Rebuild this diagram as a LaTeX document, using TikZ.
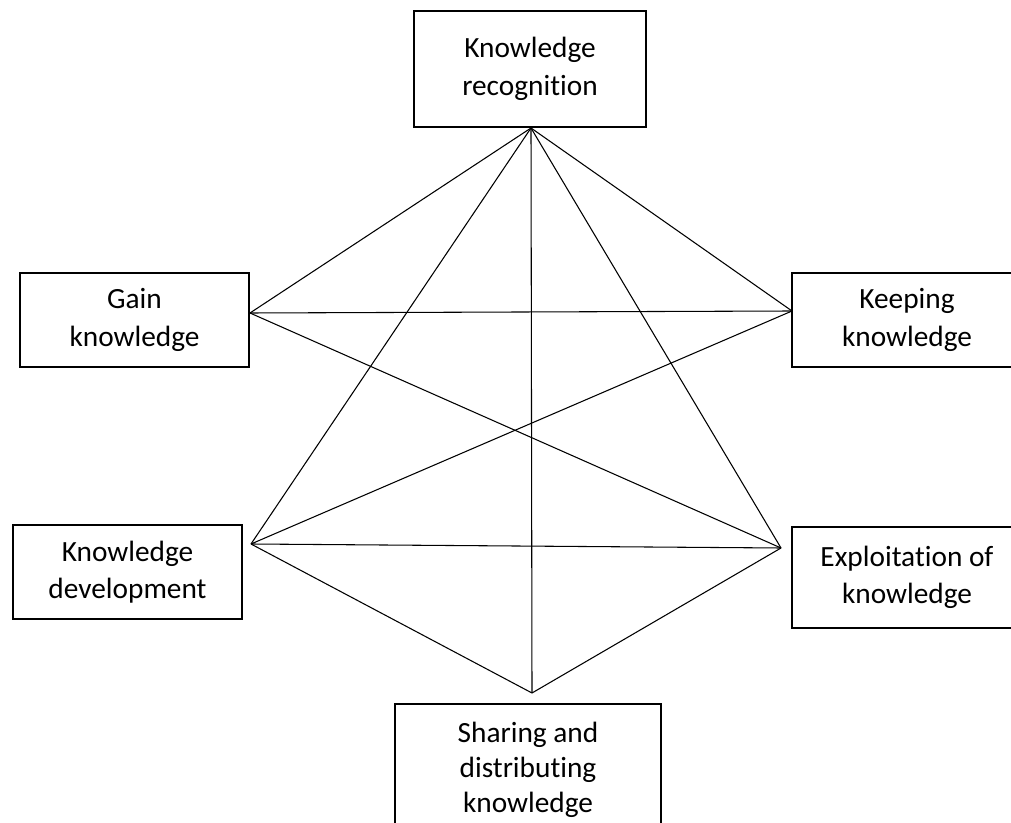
\documentclass[tikz,border=0pt]{standalone}
\usepackage{fontspec}
\setmainfont[Ligatures={NoCommon}]{Carlito}
\begin{document}
\begin{tikzpicture}[x=0.75pt,y=-0.75pt,
  box/.style={draw, line width=1.9pt, rectangle, inner sep=0pt, outer sep=0pt, align=center,
    font=\fontsize{22}{28}\selectfont},
  link/.style={line width=0.8pt}]
\useasboundingbox (0,0) rectangle (1011,823);
\clip (0,0) rectangle (1011,823);
\node[box, minimum width=232*0.75pt, minimum height=116*0.75pt] (kr) at (530,69) {Knowledge\\recognition};
\node[box, minimum width=229*0.75pt, minimum height=94*0.75pt] (gain) at (134.5,320) {Gain\\knowledge};
\node[box, minimum width=230*0.75pt, minimum height=94*0.75pt] (keep) at (907,320) {Keeping\\knowledge};
\node[box, minimum width=229*0.75pt, minimum height=94*0.75pt] (dev) at (127.5,572) {Knowledge\\development};
\node[box, minimum width=230*0.75pt, minimum height=101*0.75pt] (expl) at (907,577.5) {Exploitation of\\knowledge};
\node[box, minimum width=266*0.75pt, minimum height=132*0.75pt, font=\fontsize{22}{26.5}\selectfont] (share) at (528,770) {Sharing and\\distributing\\knowledge};
% hub points where the connectors meet
\coordinate (hkr) at (531,128);
\coordinate (hgain) at (250,313);
\coordinate (hkeep) at (792,311);
\coordinate (hdev) at (251,544);
\coordinate (hexpl) at (781,548);
\coordinate (hshare) at (532,693);
\draw[link] (hkr) -- (hgain);
\draw[link] (hkr) -- (hkeep);
\draw[link] (hkr) -- (hdev);
\draw[link] (hkr) -- (hexpl);
\draw[link] (hkr) -- (hshare);
\draw[link] (hgain) -- (hkeep);
\draw[link] (hgain) -- (hexpl);
\draw[link] (hkeep) -- (hdev);
\draw[link] (hdev) -- (hexpl);
\draw[link] (hdev) -- (hshare);
\draw[link] (hexpl) -- (hshare);
\end{tikzpicture}
\end{document}
